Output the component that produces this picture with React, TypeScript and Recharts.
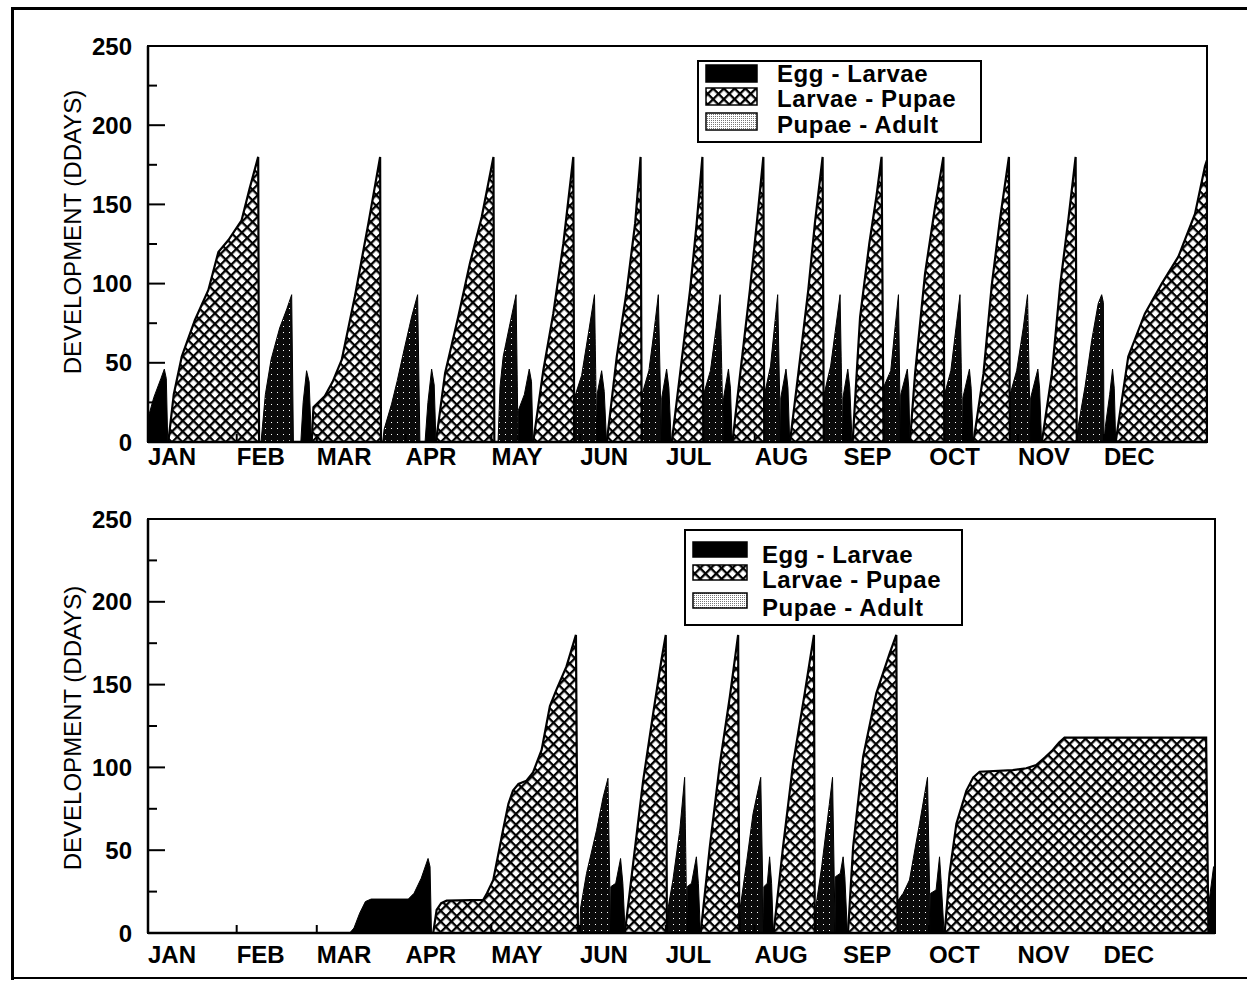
import React from 'react';
import { ComposedChart, Area, XAxis, YAxis, Legend, ReferenceArea } from 'recharts';

const FONT = '"Liberation Sans", Arial, Helvetica, sans-serif';

const monthStarts = [0, 31, 59, 90, 120, 151, 181, 212, 243, 273, 304, 334];
const monthNames = ['JAN', 'FEB', 'MAR', 'APR', 'MAY', 'JUN', 'JUL', 'AUG', 'SEP', 'OCT', 'NOV', 'DEC'];
const yTicks = [0, 25, 50, 75, 100, 125, 150, 175, 200, 225, 250];
const stageNames = ['Egg - Larvae', 'Larvae - Pupae', 'Pupae - Adult'];

type Pt = [number, number]; // [day of year, degree days]

// upper panel
const upperEggLarvae: Pt[] = [
  [0, 15], [2, 28], [4.5, 40], [5.7, 46], [6.4, 40], [6.9, 0],
  [53.4, 0], [54.2, 25], [55.4, 45], [56.3, 38], [57.1, 0],
  [96.8, 0], [97.8, 25], [99.1, 46], [100, 36], [100.6, 0],
  [129.3, 0], [129.4, 20], [131.5, 30], [133.2, 46], [134, 38], [134.5, 0],
  [156.8, 0], [156.9, 30], [158.5, 45], [159.4, 32], [160.2, 0],
  [179.4, 0], [179.5, 28], [181.2, 46], [182, 34], [182.8, 0],
  [201, 0], [201.1, 28], [202.8, 46], [203.5, 34], [204.1, 0],
  [221, 0], [221.1, 28], [222.9, 46], [223.6, 34], [224.2, 0],
  [242.7, 0], [242.8, 28], [244.5, 46], [245.2, 34], [246, 0],
  [262.9, 0], [263, 30], [265.3, 46], [265.8, 34], [266.2, 0],
  [284.6, 0], [284.7, 28], [287, 46], [287.6, 34], [288.3, 0],
  [308.3, 0], [308.4, 28], [310.9, 46], [311.5, 34], [312.2, 0],
  [334, 0], [334.5, 10], [336, 30], [337, 46], [337.6, 34], [338.1, 0],
];

const upperLarvaePupae: Pt[] = [
  [7.1, 0], [9, 30], [11.8, 54], [16.4, 77], [21.1, 96], [24.6, 120], [28.1, 127.5], [32.7, 140], [35.5, 160], [38.5, 180], [38.8, 0],
  [57.2, 0], [57.8, 22], [61.8, 29], [64.5, 38], [67.7, 52], [72.3, 92], [77, 138], [81.1, 180], [81.4, 0],
  [100.6, 0], [103.8, 43.5], [108.4, 79], [112.5, 113], [116.6, 142], [120.7, 180], [121, 0],
  [134.6, 0], [138.1, 45], [141.6, 81], [145.1, 125], [148.6, 180], [148.9, 0],
  [160.3, 0], [163.8, 54], [167.3, 96], [170.2, 138], [172.1, 180], [172.5, 0],
  [183, 0], [185.9, 43], [189.4, 96], [191.7, 138], [193.7, 180], [194, 0],
  [204.2, 0], [206.9, 43], [210.3, 96], [212.7, 138], [215, 180], [215.3, 0],
  [224.3, 0], [227.2, 43], [230.7, 96], [233, 138], [235.7, 180], [236.1, 0],
  [246.2, 0], [247.5, 40], [248.8, 79], [252, 125], [254.5, 155], [256.3, 180], [257, 0],
  [266.2, 0], [268, 43], [271.5, 106.5], [275, 148.5], [277.9, 180], [278.2, 0],
  [288.4, 0], [291.9, 43], [294.8, 99], [297.7, 141], [300.8, 180], [301.1, 0],
  [312.3, 0], [315.8, 43], [318.7, 99], [321.6, 141], [324.1, 180], [324.5, 0],
  [338.1, 0], [342.5, 54], [348.3, 81], [354.2, 100], [360, 117], [365.8, 144], [369.3, 174], [370, 178], [370, 0],
];

const upperPupaeAdult: Pt[] = [
  [39.5, 0], [40, 10], [41, 30], [43, 52], [46, 72], [48.5, 84], [50.2, 93], [50.8, 0],
  [82, 0], [82.5, 8], [85.1, 24], [87, 38], [89.2, 56], [92.1, 79], [94.2, 93], [95, 0],
  [122.3, 0], [123, 35], [124.1, 54], [126.5, 75], [128.6, 93], [129.3, 0],
  [148.9, 0], [149, 28], [151.5, 42], [154, 70], [156, 93], [156.8, 0],
  [172.5, 0], [172.6, 30], [175, 45], [176.8, 70], [178.3, 93], [179.4, 0],
  [194, 0], [194.1, 30], [196.5, 45], [198.5, 72], [199.9, 93], [201, 0],
  [215.3, 0], [215.4, 30], [217.5, 48], [219, 75], [220, 93], [221, 0],
  [236.1, 0], [236.2, 30], [238.5, 48], [240.5, 75], [241.8, 93], [242.7, 0],
  [257, 0], [257.1, 35], [259.5, 45], [261, 72], [262.2, 93], [262.9, 0],
  [278.2, 0], [278.3, 30], [280.5, 45], [282.5, 75], [283.7, 93], [284.6, 0],
  [301.1, 0], [301.2, 30], [303.5, 45], [305.8, 72], [307.3, 93], [308.3, 0],
  [324.5, 0], [325, 10], [327.4, 35], [329.7, 64], [332, 87.5], [333.2, 93], [333.8, 88], [334, 0],
];

// lower panel
const lowerEggLarvae: Pt[] = [
  [70.5, 0], [72, 3], [74, 12], [76, 19], [78, 20.5], [91, 20.5], [93, 24], [95.5, 33], [97.9, 45], [98.6, 40], [99.1, 0],
  [161.7, 0], [161.8, 28], [163.5, 30], [165.2, 45], [166, 30], [166.8, 0],
  [188.4, 0], [188.5, 28], [190, 30], [191.7, 46], [192.4, 30], [193.1, 0],
  [215.2, 0], [215.3, 28], [216.5, 30], [217.3, 46], [218, 30], [218.6, 0],
  [240.2, 0], [240.3, 34], [242, 36], [243, 46], [243.6, 34], [244.5, 0],
  [273.5, 0], [273.6, 24], [275.5, 26], [276.7, 46], [277.3, 30], [278.3, 0],
  [370.8, 0], [371, 20], [372.5, 40], [373, 40],
];

const lowerLarvaePupae: Pt[] = [
  [99.7, 0], [100.9, 14], [102.5, 18], [104.4, 19.5], [117.2, 20], [118.5, 24], [120.7, 32], [124.1, 62], [126, 78], [127.6, 86],
  [129.5, 90], [132.3, 92], [134.6, 97], [137.6, 110.5], [140.5, 137], [142.8, 147], [146.3, 161], [149.6, 180], [150.3, 0],
  [166.7, 0], [169.6, 42], [173.1, 92], [176.6, 132.6], [179.5, 165], [181, 180], [181.4, 0],
  [193.2, 0], [196.4, 52], [199.9, 102], [203.4, 142.7], [206.3, 180], [206.7, 0],
  [218.7, 0], [222, 52], [225.5, 102], [229.6, 145], [232.8, 180], [233.1, 0],
  [244.7, 0], [246.5, 52], [250, 106.5], [254.6, 144.7], [259.3, 169], [261.6, 180], [262, 0],
  [278.5, 0], [280.2, 36], [282.6, 66], [286.1, 86], [288.5, 94], [290.7, 97.4], [302.3, 98.4], [307, 99.5], [310.5, 101.4],
  [313.5, 106], [316.3, 110.5], [318.5, 115], [320.4, 118], [369.9, 118], [370.7, 0],
];

const lowerPupaeAdult: Pt[] = [
  [151, 0], [151.2, 15], [153.3, 36], [156.8, 62], [159.1, 82], [160.8, 93.4], [161.7, 0],
  [181.6, 0], [181.8, 15], [183.5, 32], [185.9, 62], [187.6, 94], [188.4, 0],
  [206.9, 0], [207, 15], [209.2, 42], [211.5, 72], [214.2, 94], [215.2, 0],
  [233.3, 0], [233.4, 15], [235.5, 40], [237.5, 68], [239.3, 94], [240.2, 0],
  [262.2, 0], [262.3, 20], [264, 24], [266.2, 32], [269.7, 66], [272.5, 94], [273.5, 0],
];

const buildRows = (el: Pt[], lp: Pt[], pa: Pt[]) =>
  [
    ...el.map(([day, v]) => ({ day, el: v })),
    ...lp.map(([day, v]) => ({ day, lp: v })),
    ...pa.map(([day, v]) => ({ day, pa: v })),
  ].sort((a, b) => a.day - b.day);

const legendFills = ['#000', 'url(#xhatch)', 'url(#stippleKey)'];

interface LegendLayout {
  left: number;
  top: number;
  w: number;
  h: number;
  swX: number;
  swW: number;
  swH: number;
  swY: number[];
  textX: number;
  textY: number[];
}

const LegendBox = ({ box }: { box: LegendLayout }) => (
  <svg width={box.w} height={box.h} style={{ display: 'block' }}>
    <rect x={1} y={1} width={box.w - 2} height={box.h - 2} fill="#fff" stroke="#000" strokeWidth={2} />
    {stageNames.map((name, i) => (
      <g key={name}>
        <rect x={box.swX} y={box.swY[i]} width={box.swW} height={box.swH} fill={legendFills[i]} stroke="#000" strokeWidth={1.5} />
        <text x={box.textX} y={box.textY[i]} fontSize={24} letterSpacing={0.6} fontWeight="bold" fontFamily={FONT} fill="#000">
          {name}
        </text>
      </g>
    ))}
  </svg>
);

const AxisTitle = ({ cy }: { cy: number }) => (
  <text x={81} y={cy} transform={`rotate(-90 81 ${cy})`} textAnchor="middle" fontSize={24} fontFamily={FONT} fill="#000">
    DEVELOPMENT (DDAYS)
  </text>
);

const renderValueTick = (props: any) => {
  const { x, y, payload } = props;
  const major = payload.value % 50 === 0;
  const x0 = x + 16;
  return (
    <g>
      <line x1={x0} x2={x0 + (major ? 17 : 9)} y1={y} y2={y} stroke="#000" strokeWidth={2} />
      {major && (
        <text x={x} y={y} dy="0.36em" textAnchor="end" fontSize={24} fontWeight="bold" fontFamily={FONT} fill="#000">
          {payload.value}
        </text>
      )}
    </g>
  );
};

const makeMonthTick = (gap: number) => (props: any) => {
  const { x, y, payload } = props;
  const idx = monthStarts.indexOf(payload.value);
  return (
    <g>
      <line x1={x} x2={x} y1={y} y2={y - 8} stroke="#000" strokeWidth={2} />
      <text x={x} y={y + gap} textAnchor="start" fontSize={24} fontWeight="bold" fontFamily={FONT} fill="#000">
        {monthNames[idx]}
      </text>
    </g>
  );
};

const panels = [
  {
    key: 'upper',
    top: 0,
    height: 490,
    margin: { top: 46, right: 40, left: 88, bottom: 8 },
    xMax: 370,
    labelGap: 23,
    titleY: 232,
    rows: buildRows(upperEggLarvae, upperLarvaePupae, upperPupaeAdult),
    legend: {
      left: 697, top: 60, w: 285, h: 83,
      swX: 9, swW: 51, swH: 17, swY: [5, 28, 53],
      textX: 80, textY: [22, 47, 73],
    },
  },
  {
    key: 'lower',
    top: 490,
    height: 493,
    margin: { top: 29, right: 32, left: 88, bottom: 10 },
    xMax: 373,
    labelGap: 30,
    titleY: 238,
    rows: buildRows(lowerEggLarvae, lowerLarvaePupae, lowerPupaeAdult),
    legend: {
      left: 684, top: 39, w: 279, h: 97,
      swX: 9, swW: 54, swH: 15, swY: [13, 36, 64],
      textX: 78, textY: [34, 59, 87],
    },
  },
];

const StageChart = ({ panel }: { panel: (typeof panels)[number] }) => (
  <div style={{ position: 'absolute', left: 0, top: panel.top }}>
    <ComposedChart width={1247} height={panel.height} data={panel.rows} margin={panel.margin}>
      <defs>
        <pattern id="xhatch" width={7.6} height={7.6} patternUnits="userSpaceOnUse" patternTransform="rotate(45)">
          <rect width={7.6} height={7.6} fill="#fff" />
          <rect x={0} y={0} width={7.6} height={2.3} fill="#000" />
          <rect x={0} y={0} width={2.3} height={7.6} fill="#000" />
        </pattern>
        <pattern id="stipple" width={6} height={6} patternUnits="userSpaceOnUse">
          <rect width={6} height={6} fill="#0a0a0a" />
          <rect x={1} y={2} width={1} height={1} fill="#fff" />
        </pattern>
        <pattern id="stippleKey" width={2} height={2} patternUnits="userSpaceOnUse">
          <rect width={2} height={2} fill="#fff" />
          <rect x={0} y={0} width={1} height={1} fill="#777" />
        </pattern>
      </defs>
      <Area type="linear" dataKey="pa" name={stageNames[2]} fill="url(#stipple)" fillOpacity={1} stroke="#000" strokeWidth={1} connectNulls dot={false} activeDot={false} isAnimationActive={false} />
      <Area type="linear" dataKey="el" name={stageNames[0]} fill="#000" fillOpacity={1} stroke="#000" strokeWidth={1} connectNulls dot={false} activeDot={false} isAnimationActive={false} />
      <Area type="linear" dataKey="lp" name={stageNames[1]} fill="url(#xhatch)" fillOpacity={1} stroke="#000" strokeWidth={2.2} connectNulls dot={false} activeDot={false} isAnimationActive={false} />
      <ReferenceArea x1={0} x2={panel.xMax} y1={0} y2={250} fill="none" fillOpacity={0} stroke="#000" strokeWidth={2} ifOverflow="visible" />
      <XAxis
        dataKey="day"
        type="number"
        domain={[0, panel.xMax]}
        allowDataOverflow
        ticks={monthStarts}
        interval={0}
        tickSize={0}
        tickMargin={0}
        tickLine={false}
        tick={makeMonthTick(panel.labelGap)}
        height={40}
        stroke="#000"
        strokeWidth={2.5}
      />
      <YAxis
        type="number"
        domain={[0, 250]}
        ticks={yTicks}
        interval={0}
        tickSize={0}
        tickMargin={16}
        tickLine={false}
        tick={renderValueTick}
        width={60}
        stroke="#000"
        strokeWidth={2.5}
        label={<AxisTitle cy={panel.titleY} />}
      />
      <Legend
        layout="vertical"
        align="center"
        verticalAlign="middle"
        content={() => <LegendBox box={panel.legend} />}
        wrapperStyle={{ left: panel.legend.left, top: panel.legend.top, width: panel.legend.w, height: panel.legend.h }}
      />
    </ComposedChart>
  </div>
);

export default function App() {
  return (
    <div style={{ position: 'absolute', left: 0, top: 0, width: 1247, height: 983, background: '#fff', fontFamily: FONT }}>
      {panels.map((p) => (
        <StageChart key={p.key} panel={p} />
      ))}
      {/* figure frame */}
      <div style={{ position: 'absolute', left: 11, top: 7, width: 1236, height: 3, background: '#000' }} />
      <div style={{ position: 'absolute', left: 11, top: 7, width: 3, height: 973, background: '#000' }} />
      <div style={{ position: 'absolute', left: 11, top: 977, width: 1236, height: 2, background: '#000' }} />
    </div>
  );
}
